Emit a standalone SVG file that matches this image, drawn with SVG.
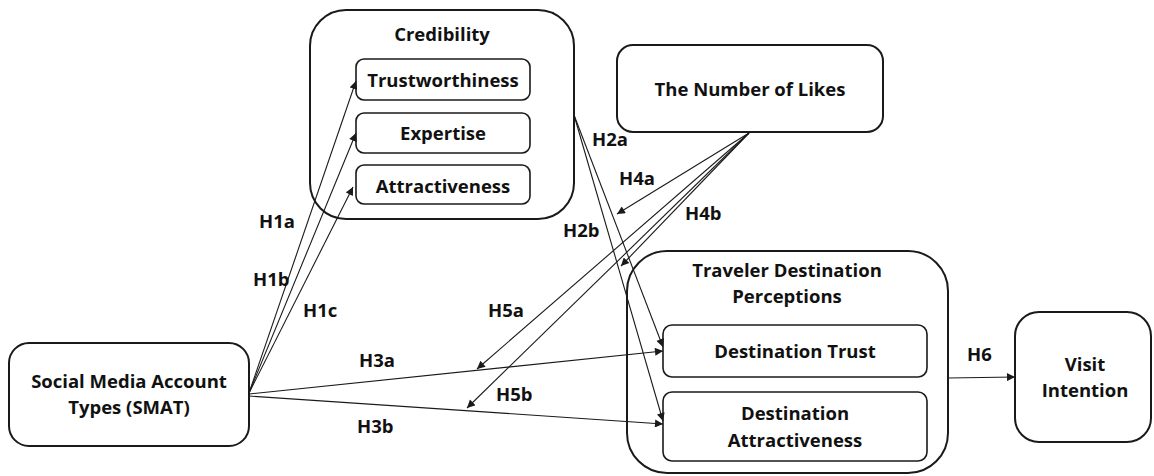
<svg xmlns="http://www.w3.org/2000/svg" width="1154" height="476" viewBox="0 0 1154 476">
  <style>
    .box { fill: #ffffff; stroke: #1a1a1a; stroke-width: 2; }
    .inner { fill: #ffffff; stroke: #1a1a1a; stroke-width: 1.6; }
    .lbl { font-family: "Open Sans", "Liberation Sans", sans-serif; font-weight: 700; font-size: 18.5px; fill: #111111; }
    .mid { text-anchor: middle; }
    .edge { fill: none; stroke: #1a1a1a; stroke-width: 1.1; marker-end: url(#arrow); }
  </style>
  <defs>
    <marker id="arrow" viewBox="0 0 10 10" refX="10" refY="5" markerWidth="9" markerHeight="8" markerUnits="userSpaceOnUse" orient="auto">
      <path d="M0,0 L10,5 L0,10 z" fill="#1a1a1a"/>
    </marker>
  </defs>
  <rect width="1154" height="476" fill="#ffffff"/>

  <!-- Credibility group with its three dimensions -->
  <g id="credibility">
    <rect class="box" x="310" y="10" width="264" height="209" rx="36" ry="36"/>
    <text class="lbl mid" x="442" y="41">Credibility</text>
  </g>
  <g id="trustworthiness">
    <rect class="inner" x="356" y="59" width="174" height="41" rx="8" ry="8"/>
    <text class="lbl mid" x="443" y="87">Trustworthiness</text>
  </g>
  <g id="expertise">
    <rect class="inner" x="356" y="113" width="174" height="40" rx="8" ry="8"/>
    <text class="lbl mid" x="443" y="140">Expertise</text>
  </g>
  <g id="attractiveness">
    <rect class="inner" x="356" y="165" width="174" height="39" rx="8" ry="8"/>
    <text class="lbl mid" x="443" y="193">Attractiveness</text>
  </g>

  <!-- Moderator -->
  <g id="likes">
    <rect class="box" x="617" y="45" width="266" height="87" rx="16" ry="16"/>
    <text class="lbl mid" x="750" y="96">The Number of Likes</text>
  </g>

  <!-- Traveler destination perceptions -->
  <g id="perceptions">
    <rect class="box" x="627" y="251" width="321" height="222" rx="40" ry="40"/>
    <text class="lbl mid" x="787" y="277">Traveler Destination</text>
    <text class="lbl mid" x="787" y="303">Perceptions</text>
  </g>
  <g id="destination-trust">
    <rect class="inner" x="663" y="325" width="264" height="52" rx="9" ry="9"/>
    <text class="lbl mid" x="795" y="358">Destination Trust</text>
  </g>
  <g id="destination-attractiveness">
    <rect class="inner" x="663" y="392" width="264" height="69" rx="9" ry="9"/>
    <text class="lbl mid" x="795" y="420">Destination</text>
    <text class="lbl mid" x="795" y="447">Attractiveness</text>
  </g>

  <!-- Outcome -->
  <g id="visit-intention">
    <rect class="box" x="1015" y="312" width="136" height="130" rx="24" ry="24"/>
    <text class="lbl mid" x="1085" y="371">Visit</text>
    <text class="lbl mid" x="1085" y="397">Intention</text>
  </g>

  <!-- Antecedent -->
  <g id="smat">
    <rect class="box" x="9" y="343" width="240" height="103" rx="20" ry="20"/>
    <text class="lbl mid" x="129" y="388">Social Media Account</text>
    <text class="lbl mid" x="129" y="414">Types (SMAT)</text>
  </g>

  <!-- Hypothesised paths -->
  <g id="connectors">
    <line class="edge" x1="249" y1="393" x2="356" y2="81"/>
    <line class="edge" x1="249" y1="393" x2="356" y2="133"/>
    <line class="edge" x1="249" y1="393" x2="353" y2="187"/>
    <line class="edge" x1="249" y1="394" x2="663" y2="351"/>
    <line class="edge" x1="249" y1="396" x2="663" y2="424"/>
    <line class="edge" x1="574" y1="115" x2="663" y2="347"/>
    <line class="edge" x1="574" y1="115" x2="663" y2="421"/>
    <line class="edge" x1="749" y1="133" x2="617" y2="214"/>
    <line class="edge" x1="749" y1="133" x2="621" y2="266"/>
    <line class="edge" x1="749" y1="133" x2="477" y2="369"/>
    <line class="edge" x1="749" y1="133" x2="467" y2="408"/>
    <line class="edge" x1="948" y1="378" x2="1015" y2="377"/>
  </g>

  <!-- Hypothesis labels -->
  <g id="labels">
    <text class="lbl" x="259" y="228">H1a</text>
    <text class="lbl" x="253" y="286">H1b</text>
    <text class="lbl" x="303" y="317">H1c</text>
    <text class="lbl" x="592" y="146">H2a</text>
    <text class="lbl" x="563" y="237">H2b</text>
    <text class="lbl" x="359" y="367">H3a</text>
    <text class="lbl" x="357" y="433">H3b</text>
    <text class="lbl" x="619" y="185">H4a</text>
    <text class="lbl" x="685" y="220">H4b</text>
    <text class="lbl" x="488" y="317">H5a</text>
    <text class="lbl" x="496" y="401">H5b</text>
    <text class="lbl" x="967" y="361">H6</text>
  </g>
</svg>
